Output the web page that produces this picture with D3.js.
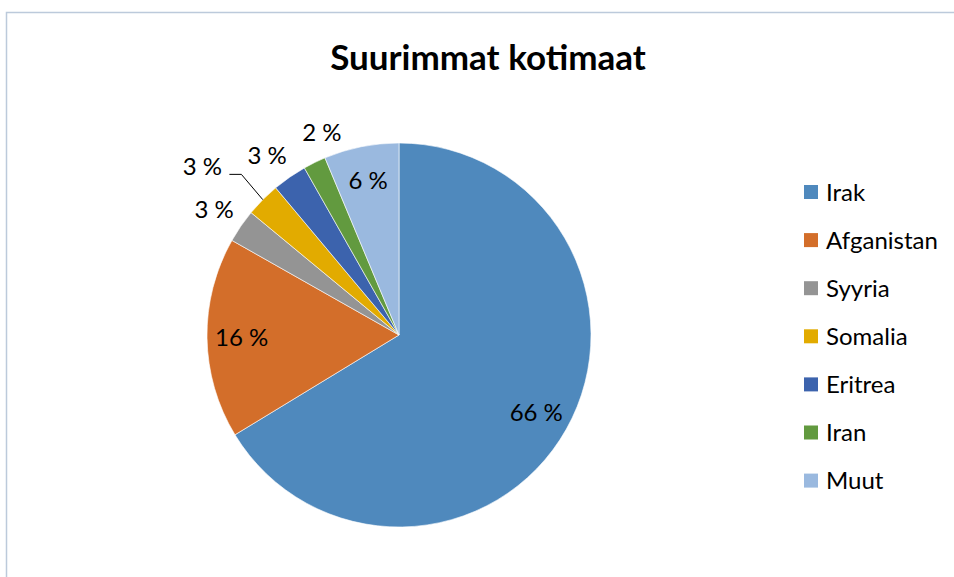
<!DOCTYPE html>
<html>
<head>
<meta charset="utf-8">
<script src="https://cdn.jsdelivr.net/npm/d3@7"></script>
<style>
  body { margin: 0; background: #fff; }
  svg text { font-family: Lato, "Open Sans", sans-serif; fill: #000; }
</style>
</head>
<body>
<svg width="954" height="577"></svg>
<script>
// data (share of total, %)
var countries = ["Irak", "Afganistan", "Syyria", "Somalia", "Eritrea", "Iran", "Muut"];
var shares = [66.3, 16.9, 2.8, 2.9, 2.9, 1.9, 6.3];
var colors = ["#4f89bd", "#d36e2a", "#949494", "#e2ab00", "#3c63ad", "#629a3f", "#9ab9df"];
var labels = ["66 %", "16 %", "3 %", "3 %", "3 %", "2 %", "6 %"];

var svg = d3.select("svg"),
width = +svg.attr("width"),
height = +svg.attr("height");

// chart frame
svg.append("rect")
  .attr("x", 6.5).attr("y", 12.5)
  .attr("width", width + 10).attr("height", height + 10)
  .attr("fill", "none")
  .attr("stroke", "#bccadb")
  .attr("stroke-width", 1.5);

svg.append("text")
  .attr("x", 488).attr("y", 70)
  .attr("text-anchor", "middle")
  .style("font-size", "35px")
  .style("font-weight", "bold")
  .text("Suurimmat kotimaat");

var cx = 399, cy = 335, r = 192;

var pie = d3.pie().sort(null).value(function(d) { return d; });
var arcs = pie(shares);

var arc = d3.arc().innerRadius(0).outerRadius(r);

var g = svg.append("g").attr("transform", "translate(" + cx + "," + cy + ")");

g.selectAll("path")
  .data(arcs)
  .enter().append("path")
  .attr("d", arc)
  .attr("fill", function(d, i) { return colors[i]; })
  .attr("stroke", "#fff")
  .attr("stroke-width", 0.6);

// labels: big slices inside, small ones just outside
var inner = d3.arc().innerRadius(r * 0.82).outerRadius(r * 0.82);
var outer = d3.arc().innerRadius(r * 1.15).outerRadius(r * 1.15);
var edge = d3.arc().innerRadius(r).outerRadius(r);

// nudges so the small labels don't collide
var nudge = { 2: [-3, 0], 3: [-40, -13], 4: [-6, 2], 5: [20, -4] };
var leader = [3];

function labelPos(d, i) {
  var p = (d.data > 5 ? inner : outer).centroid(d);
  if (nudge[i]) { p[0] += nudge[i][0]; p[1] += nudge[i][1]; }
  return p;
}

g.selectAll("text.lbl")
  .data(arcs)
  .enter().append("text")
  .attr("class", "lbl")
  .attr("text-anchor", "middle")
  .attr("dy", "0.36em")
  .style("font-size", "24px")
  .attr("transform", function(d, i) { return "translate(" + labelPos(d, i) + ")"; })
  .text(function(d, i) { return labels[i]; });

leader.forEach(function(i) {
  var d = arcs[i];
  var p = labelPos(d, i);
  var lx = p[0] + 27, ly = p[1] + 8;
  var e = edge.centroid(d);
  g.append("polyline")
    .attr("points", [[lx, ly], [lx + 12, ly], e].join(" "))
    .attr("fill", "none")
    .attr("stroke", "#000")
    .attr("stroke-width", 1);
});

// legend
var legend = svg.append("g").attr("transform", "translate(804,192)");
var item = legend.selectAll("g")
  .data(countries)
  .enter().append("g")
  .attr("transform", function(d, i) { return "translate(0," + (i * 48.1) + ")"; });

item.append("rect")
  .attr("x", 0).attr("y", -7)
  .attr("width", 14).attr("height", 14)
  .attr("fill", function(d, i) { return colors[i]; });

item.append("text")
  .attr("x", 22).attr("dy", "0.36em")
  .style("font-size", "24px")
  .text(function(d) { return d; });
</script>
</body>
</html>
